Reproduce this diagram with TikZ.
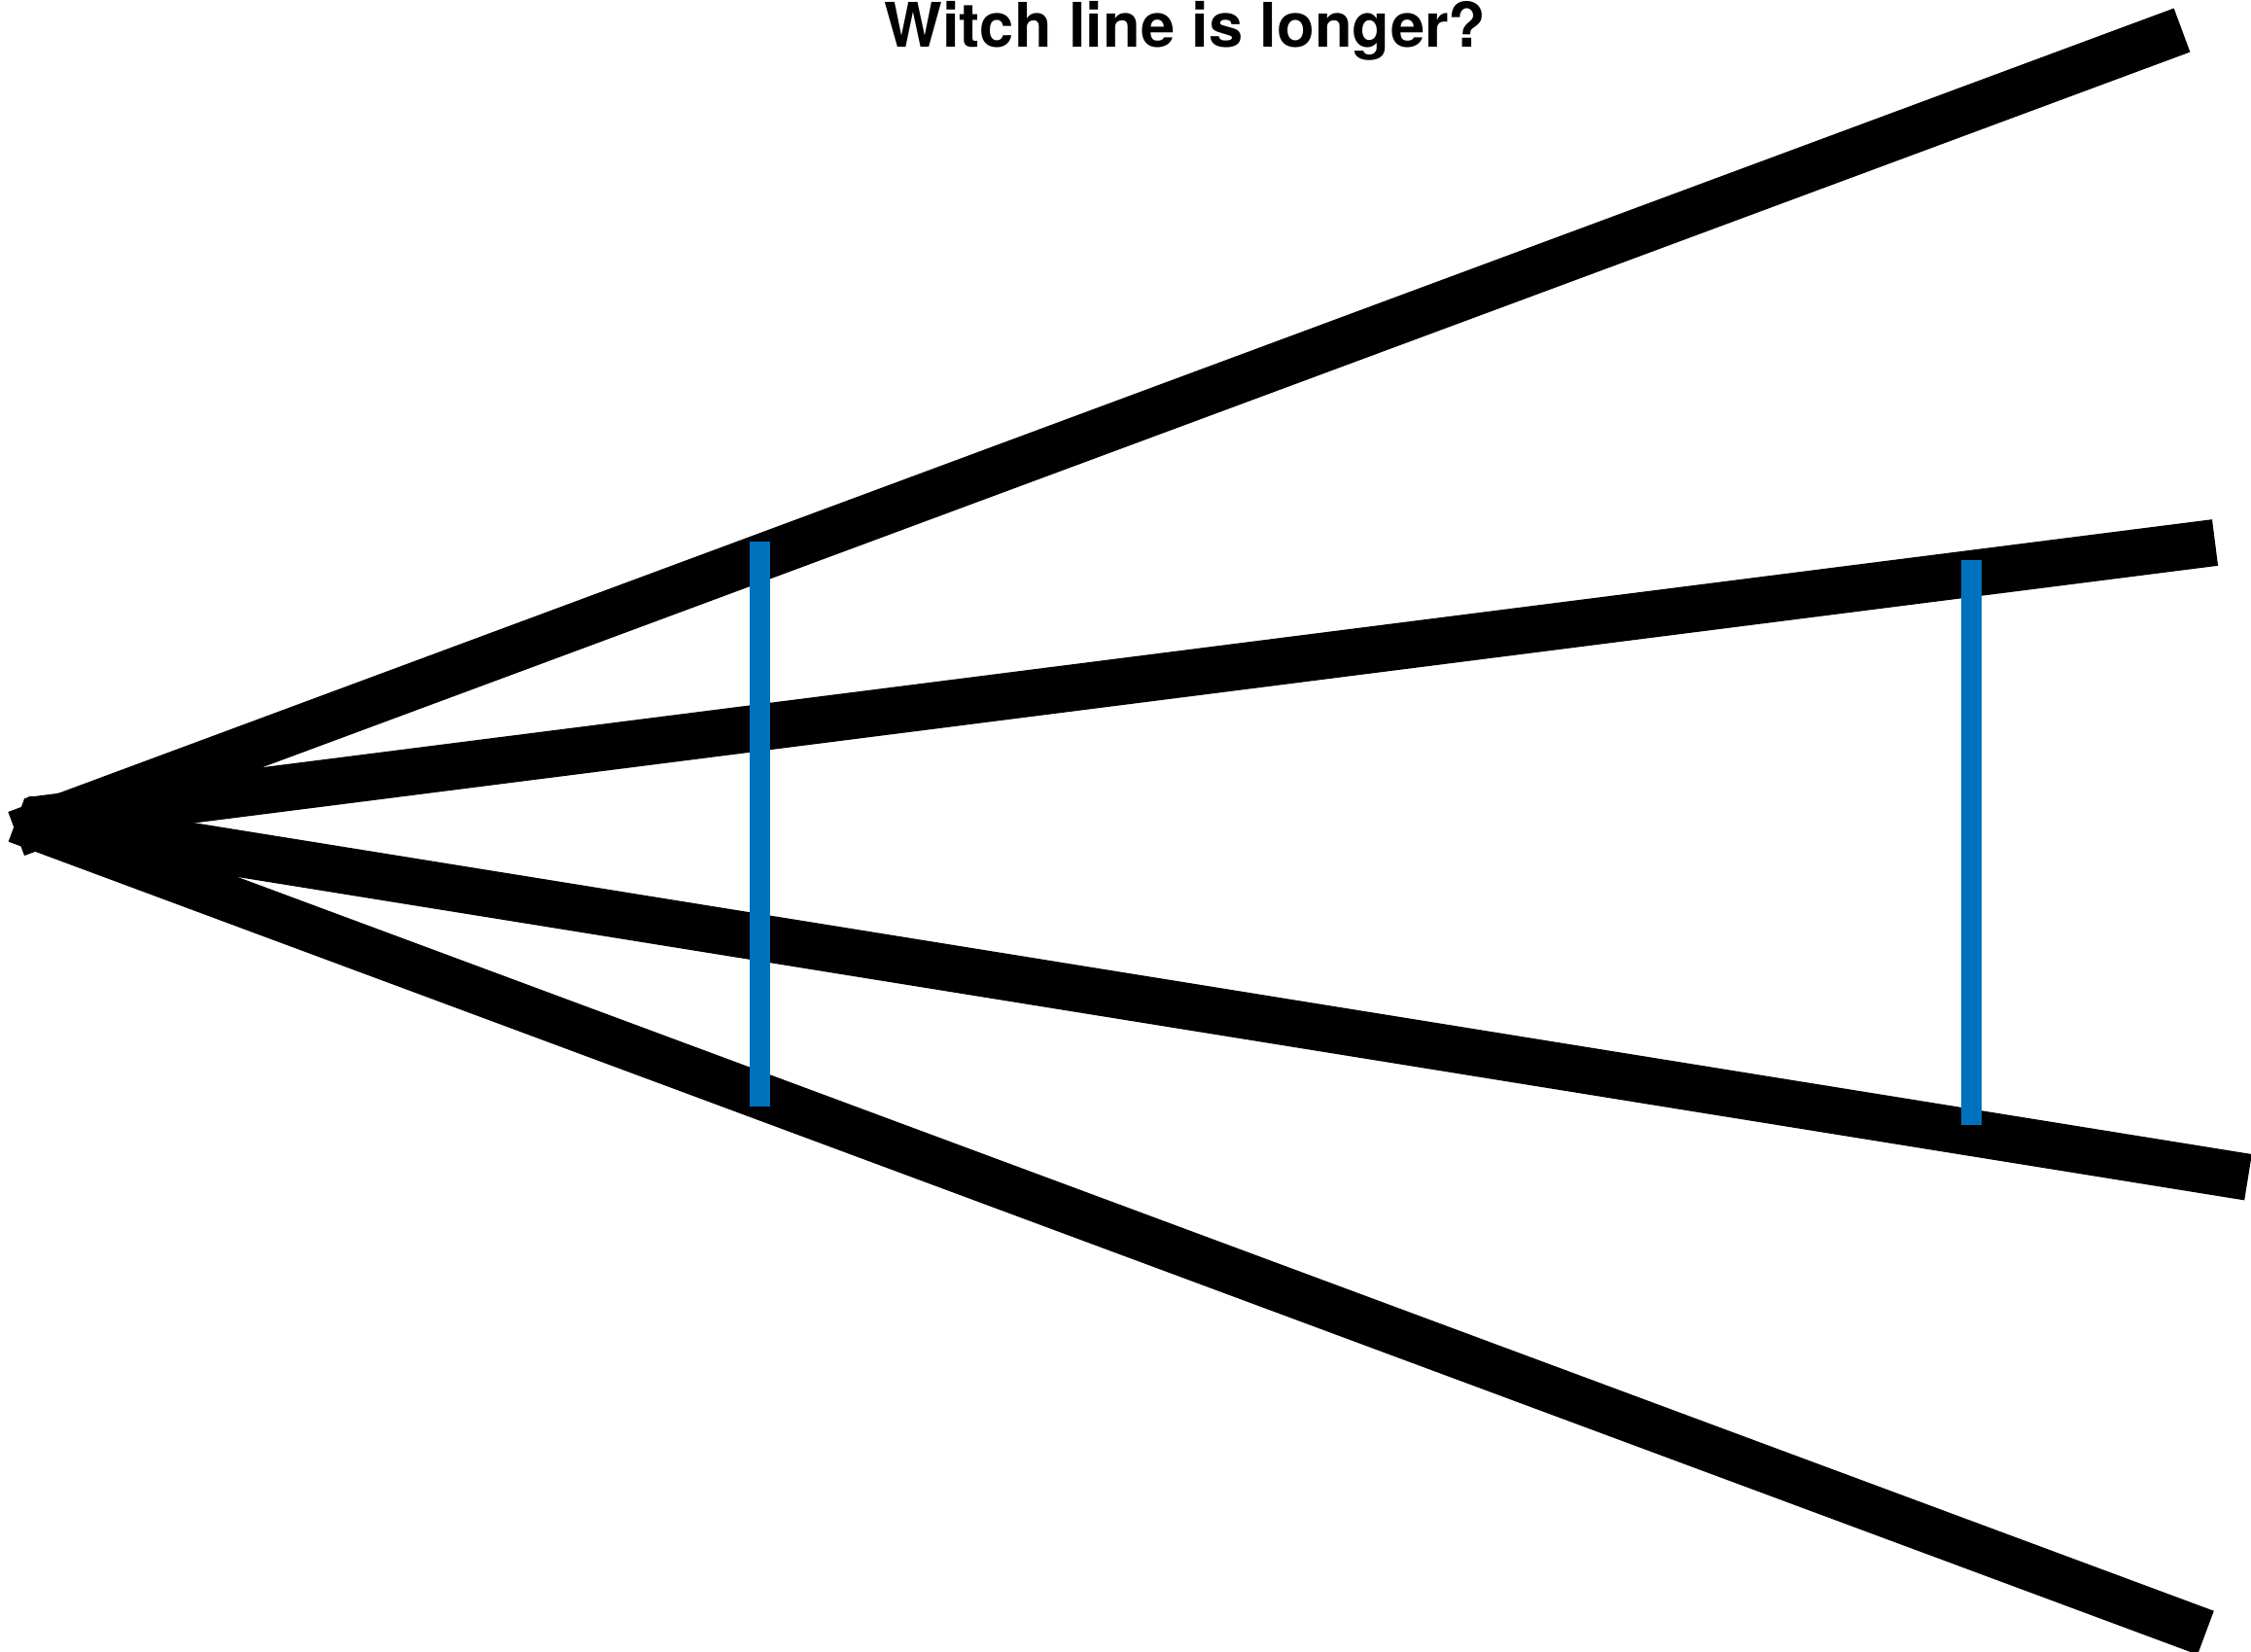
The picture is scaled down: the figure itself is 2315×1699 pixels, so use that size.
\documentclass[tikz,border=0pt]{standalone}
\usepackage{fontspec}
\setmainfont{TeX Gyre Heros}
\definecolor{mblue}{RGB}{0,114,189}
\begin{document}
\begin{tikzpicture}[x=1pt,y=-1pt,
  ray/.style={line width=48pt,black,line cap=butt},
  bar/.style={line width=21pt,mblue,line cap=butt}]
\useasboundingbox (0,0) rectangle (2315,1699);
\clip (0,0) rectangle (2315,1699);
% ray end points
\coordinate (s1) at (16.7,857.5);
\coordinate (e1) at (2244,31);
\coordinate (s2) at (30.3,843.8);
\coordinate (e2) at (2278,558);
\coordinate (s3) at (26,842.5);
\coordinate (e3) at (2312,1210.7);
\coordinate (s4) at (17,843.1);
\coordinate (e4) at (2268.4,1679.2);
% blue bars
\coordinate (b1t) at (781.7,557.3);
\coordinate (b1b) at (781.7,1138.3);
\coordinate (b2t) at (2027.8,575.7);
\coordinate (b2b) at (2027.8,1156.7);
\draw[ray] (s4) -- (e4);
\draw[ray] (s3) -- (e3);
\draw[ray] (s2) -- (e2);
\draw[ray] (s1) -- (e1);
\draw[bar] (b1t) -- (b1b);
\draw[bar] (b2t) -- (b2b);
\node[anchor=base,inner sep=0pt,font=\fontsize{63.2}{70}\selectfont\bfseries] (title) at (1219,48.7) {Witch line is longer?};
\end{tikzpicture}
\end{document}
